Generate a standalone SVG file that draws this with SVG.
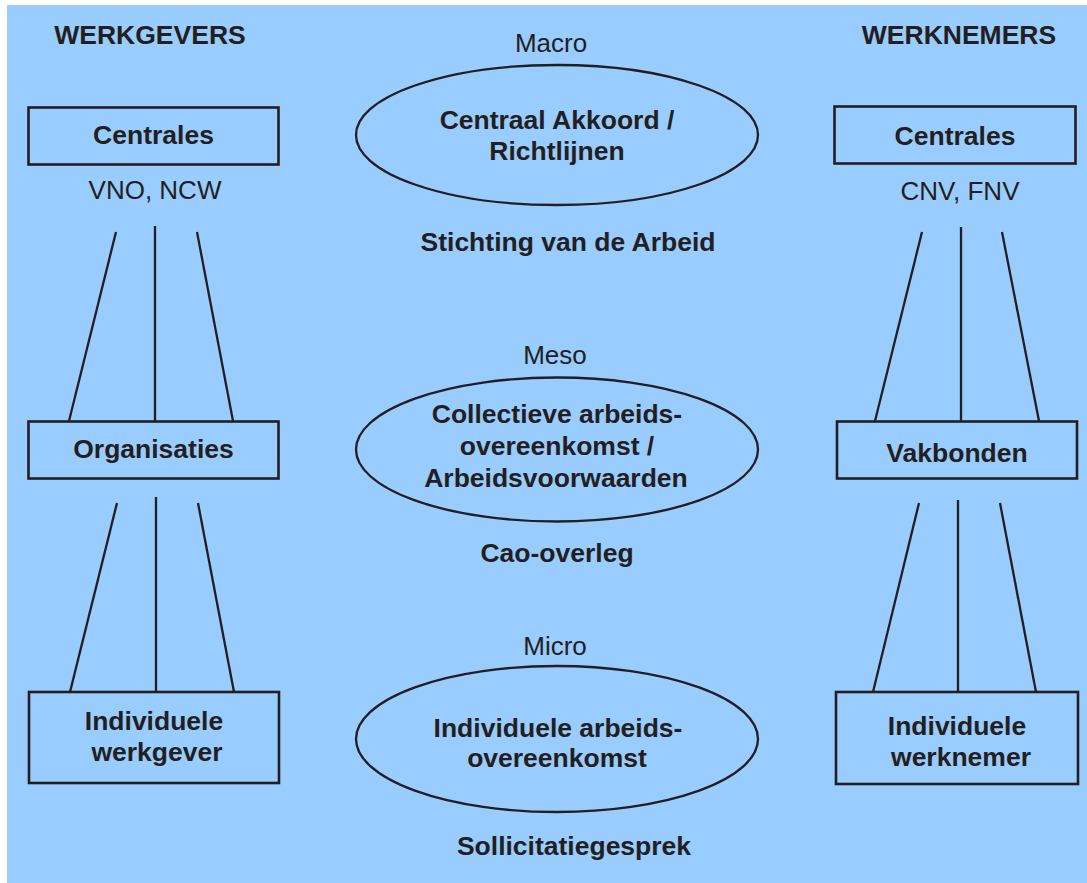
<svg xmlns="http://www.w3.org/2000/svg" width="1087" height="883" viewBox="0 0 1087 883">
<style>
text{font-family:"Liberation Sans",Arial,sans-serif;font-size:26px;fill:#231f20;text-anchor:middle}
.b{font-weight:bold;font-size:26.5px}
.box{fill:none;stroke:#231f20;stroke-width:2.6}
.ell{fill:none;stroke:#231f20;stroke-width:2.3}
.ln{stroke:#231f20;stroke-width:2.3;fill:none}
</style>
<rect x="7" y="5" width="1080" height="878" fill="#99ccff"/>
<text class="b" x="150" y="44">WERKGEVERS</text>
<text class="b" x="959" y="44">WERKNEMERS</text>
<text x="551" y="52">Macro</text>
<text x="555" y="364">Meso</text>
<text x="555" y="655">Micro</text>
<text class="b" x="568" y="251">Stichting van de Arbeid</text>
<text class="b" x="557" y="562">Cao-overleg</text>
<text class="b" x="574" y="855">Sollicitatiegesprek</text>
<text x="155" y="199">VNO, NCW</text>
<text x="960" y="200">CNV, FNV</text>
<g id="connectors">
<line class="ln" x1="116" y1="232" x2="69" y2="421"/>
<line class="ln" x1="155" y1="226" x2="155" y2="421"/>
<line class="ln" x1="197" y1="232" x2="233" y2="421"/>
<line class="ln" x1="117" y1="503" x2="70" y2="692"/>
<line class="ln" x1="156" y1="497" x2="156" y2="692"/>
<line class="ln" x1="198" y1="503" x2="234" y2="692"/>
<line class="ln" x1="922" y1="232" x2="875" y2="421"/>
<line class="ln" x1="961" y1="227" x2="961" y2="421"/>
<line class="ln" x1="1002" y1="232" x2="1039" y2="421"/>
<line class="ln" x1="919" y1="503" x2="873" y2="692"/>
<line class="ln" x1="958" y1="500" x2="958" y2="692"/>
<line class="ln" x1="1000" y1="503" x2="1036" y2="692"/>
</g>
<g id="wg-centrales"><rect class="box" x="28.5" y="107.5" width="250" height="57"/><text class="b" x="153.5" y="144">Centrales</text></g>
<g id="wg-organisaties"><rect class="box" x="28.5" y="421.5" width="250" height="57"/><text class="b" x="153.5" y="458">Organisaties</text></g>
<g id="wg-individueel"><rect class="box" x="29" y="692" width="250" height="91"/><text class="b" x="154" y="730">Individuele</text><text class="b" x="157" y="761">werkgever</text></g>
<g id="wn-centrales"><rect class="box" x="834.5" y="106.5" width="241" height="57"/><text class="b" x="955" y="145">Centrales</text></g>
<g id="wn-vakbonden"><rect class="box" x="837" y="421.5" width="240" height="57"/><text class="b" x="957" y="462">Vakbonden</text></g>
<g id="wn-individueel"><rect class="box" x="836" y="692" width="242" height="92"/><text class="b" x="957" y="735">Individuele</text><text class="b" x="961" y="766">werknemer</text></g>
<g id="macro"><ellipse class="ell" cx="557" cy="135" rx="201" ry="70"/><text class="b" x="557" y="129">Centraal Akkoord /</text><text class="b" x="557" y="160">Richtlijnen</text></g>
<g id="meso"><ellipse class="ell" cx="557" cy="449.5" rx="201" ry="72"/><text class="b" x="557" y="423">Collectieve arbeids-</text><text class="b" x="557" y="455">overeenkomst /</text><text class="b" x="556" y="487">Arbeidsvoorwaarden</text></g>
<g id="micro"><ellipse class="ell" cx="557" cy="739" rx="201" ry="73"/><text class="b" x="558" y="737">Individuele arbeids-</text><text class="b" x="557" y="767">overeenkomst</text></g>
</svg>
